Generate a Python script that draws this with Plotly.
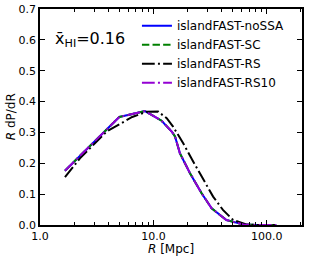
import plotly.graph_objects as go

# purple / blue / green curves (nearly identical)
r_main = [1.66, 5.0, 6.1, 8.4, 9.3, 11.8, 14.5, 15.5, 16.0, 17.1, 21.0, 26.6, 32.6, 44.0, 62.0, 80.0, 121.0]
p_nossa = [0.176, 0.350, 0.357, 0.369, 0.360, 0.338, 0.303, 0.287, 0.270, 0.233, 0.168, 0.103, 0.054, 0.016, 0.002, 0.0, 0.0]
p_sc = [0.176, 0.350, 0.357, 0.369, 0.360, 0.338, 0.303, 0.287, 0.270, 0.233, 0.168, 0.103, 0.054, 0.016, 0.002, 0.0, 0.0]
p_rs10 = [0.176, 0.350, 0.357, 0.369, 0.360, 0.338, 0.303, 0.287, 0.270, 0.233, 0.168, 0.103, 0.054, 0.016, 0.002, 0.0, 0.0]

# black RS curve
r_rs = [1.66, 2.25, 3.87, 5.0, 6.5, 8.7, 11.0, 11.4, 13.1, 14.9, 18.3, 22.4, 27.5, 33.6, 41.0, 50.5, 66.0, 81.0, 121.0]
p_rs = [0.155, 0.216, 0.303, 0.327, 0.350, 0.367, 0.368, 0.363, 0.346, 0.319, 0.265, 0.206, 0.146, 0.092, 0.049, 0.016, 0.002, 0.0, 0.0]

x_ticks = [1, 10, 100]
x_ticktext = ["1.0", "10.0", "100.0"]
y_ticks = [0.0, 0.1, 0.2, 0.3, 0.4, 0.5, 0.6, 0.7]

font = "DejaVu Sans, Liberation Sans, sans-serif"
dashdot = "12.8px,3.2px,2px,3.2px"

fig = go.Figure()
fig.add_trace(go.Scatter(x=r_main, y=p_nossa, mode="lines", name="islandFAST-noSSA",
                         line=dict(color="#0000ff", width=2, dash="solid")))
fig.add_trace(go.Scatter(x=r_main, y=p_sc, mode="lines", name="islandFAST-SC",
                         line=dict(color="#008000", width=2, dash="7.4px,3.2px")))
fig.add_trace(go.Scatter(x=r_rs, y=p_rs, mode="lines", name="islandFAST-RS",
                         line=dict(color="#000000", width=2, dash=dashdot)))
fig.add_trace(go.Scatter(x=r_main, y=p_rs10, mode="lines", name="islandFAST-RS10",
                         line=dict(color="#9400d3", width=2, dash=dashdot)))

minor_vals = [m * 10 ** k for k in range(0, 3) for m in range(2, 10)]

fig.update_layout(
    width=311, height=259,
    margin=dict(l=40, r=9, t=9, b=34, autoexpand=False),
    paper_bgcolor="white", plot_bgcolor="white",
    font=dict(family=font, size=11, color="black"),
    showlegend=True,
    legend=dict(x=0.37, y=0.99, xanchor="left", yanchor="top",
                bgcolor="rgba(0,0,0,0)", font=dict(size=12, family=font),
                tracegroupgap=0),
    xaxis=dict(type="log", range=[0, 2.31], tickvals=x_ticks, ticktext=x_ticktext,
               ticks="inside", ticklen=5, tickwidth=1, tickcolor="black",
               showline=True, linecolor="black", linewidth=1.5, mirror="ticks",
               showgrid=False, zeroline=False, automargin=False,
               minor=dict(tickvals=minor_vals, ticks="inside", ticklen=3, tickcolor="black", showgrid=False)),
    yaxis=dict(range=[0, 0.7], tickvals=y_ticks, tickformat=".1f",
               ticks="inside", ticklen=5, tickwidth=1, tickcolor="black",
               showline=True, linecolor="black", linewidth=1.5, mirror="ticks",
               showgrid=False, zeroline=False, automargin=False),
)

fig.add_annotation(x=0.5, y=-0.113, xref="paper", yref="paper", xanchor="center", yanchor="middle",
                   text="<i>R</i> [Mpc]", showarrow=False, font=dict(size=12, family=font))
fig.add_annotation(x=-0.11, y=0.5, xref="paper", yref="paper", xanchor="center", yanchor="middle",
                   text="<i>R</i> dP/dR", showarrow=False, textangle=-90, font=dict(size=12, family=font))

fig.add_annotation(x=0.05, y=0.6, xref="paper", yref="y", xanchor="left", yanchor="middle",
                   text="x\u0304<sub>HI</sub>=0.16", showarrow=False,
                   font=dict(size=16, family=font, color="black"))

fig.write_html("out.html", config={"displayModeBar": False},
               post_script="document.body.style.margin='0';document.body.style.overflow='hidden';")
